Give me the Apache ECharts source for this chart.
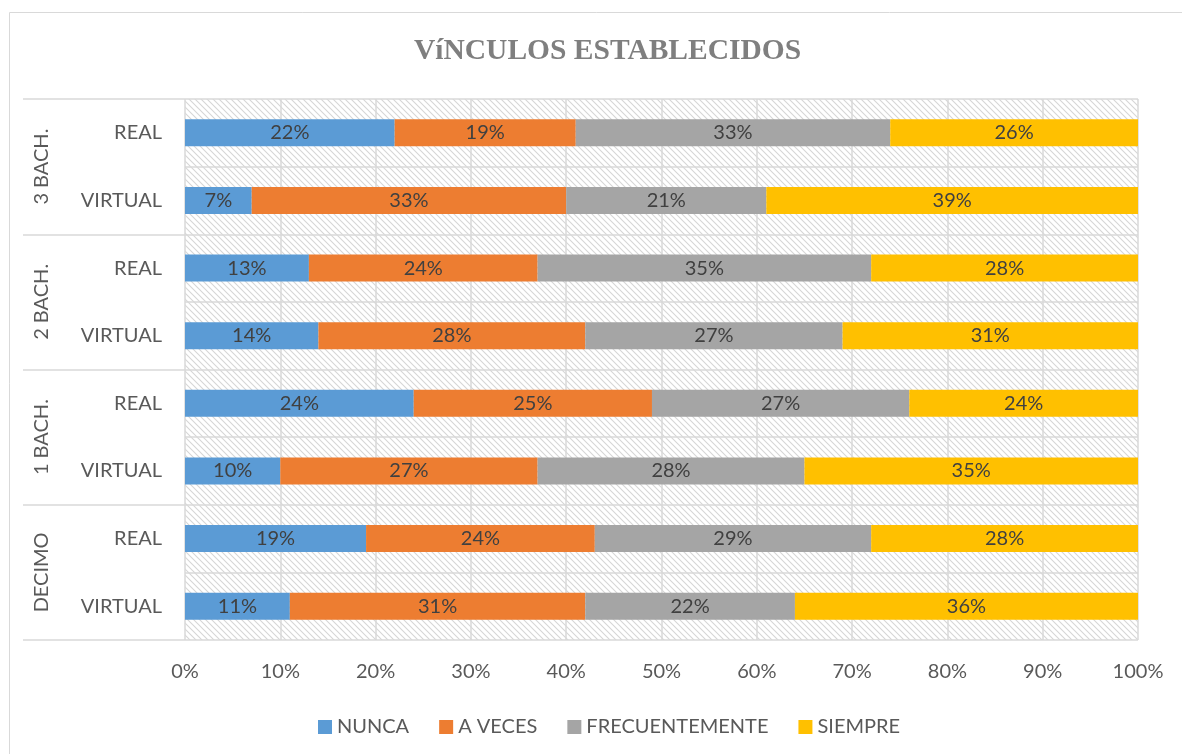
<!DOCTYPE html>
<html lang="es">
<head>
    <meta charset="UTF-8">
    <title>Vínculos establecidos</title>
    <script src="https://cdn.jsdelivr.net/npm/echarts@6/dist/echarts.min.js"></script>
    <style>
        html, body { margin: 0; padding: 0; background: #ffffff; }
        #chart { width: 1182px; height: 754px; }
    </style>
</head>
<body>
<div id="chart"></div>
<script>
    // categories, bottom to top (Excel order)
    var rows = ['VIRTUAL', 'REAL', 'VIRTUAL', 'REAL', 'VIRTUAL', 'REAL', 'VIRTUAL', 'REAL'];
    var groups = ['DECIMO', '1 BACH.', '2 BACH.', '3 BACH.'];
    var seriesNames = ['NUNCA', 'A VECES', 'FRECUENTEMENTE', 'SIEMPRE'];
    var xTicks = [0, 10, 20, 30, 40, 50, 60, 70, 80, 90, 100];

    var nunca       = [11, 19, 10, 24, 14, 13, 7, 22];
    var aVeces      = [31, 24, 27, 25, 28, 24, 33, 19];
    var frecuente   = [22, 29, 28, 27, 27, 35, 21, 33];
    var siempre     = [36, 28, 35, 24, 31, 28, 39, 26];

    var colors = ['#5b9bd5', '#ed7d31', '#a5a5a5', '#ffc000'];
    var txt = '#595959';
    var line = '#d9d9d9';
    var font = 'Lato, "Open Sans", sans-serif';

    // hatched background of the plot area
    function hatch() {
        var c = document.createElement('canvas');
        c.width = 6; c.height = 6;
        var ctx = c.getContext('2d');
        ctx.fillStyle = '#ffffff';
        ctx.fillRect(0, 0, 6, 6);
        ctx.strokeStyle = '#d6d6d6';
        ctx.lineWidth = 1.1;
        ctx.beginPath();
        ctx.moveTo(-1, -1); ctx.lineTo(7, 7);
        ctx.moveTo(-4, 2); ctx.lineTo(4, 10);
        ctx.moveTo(2, -4); ctx.lineTo(10, 4);
        ctx.stroke();
        return c;
    }

    var values = [nunca, aVeces, frecuente, siempre];
    var series = seriesNames.map(function (name, i) {
        return {
            name: name,
            type: 'bar',
            stack: 'total',
            barWidth: 27,
            data: values[i],
            itemStyle: { color: colors[i] },
            label: {
                show: true,
                position: 'inside',
                formatter: '{c}%',
                color: '#404040',
                fontSize: 20,
                fontFamily: font
            }
        };
    });

    var myChart = echarts.init(document.getElementById('chart'));
    myChart.setOption({
        animation: false,
        title: {
            text: 'VíNCULOS ESTABLECIDOS',
            left: 409,
            top: 31,
            textStyle: {
                fontFamily: '"Liberation Serif", "DejaVu Serif", serif',
                fontWeight: 'bold',
                fontSize: 29.5,
                color: '#7f7f7f'
            }
        },
        legend: {
            bottom: 12,
            left: 313,
            itemWidth: 14,
            itemHeight: 14,
            itemGap: 30,
            icon: 'rect',
            textStyle: { color: txt, fontSize: 20, fontFamily: font },
            data: seriesNames
        },
        graphic: [{
            type: 'rect',
            shape: { x: 9.5, y: 12.5, width: 1200, height: 800 },
            style: { fill: 'none', stroke: line, lineWidth: 1 },
            silent: true
        }],
        grid: {
            left: 185,
            right: 44,
            top: 99,
            bottom: 114,
            show: true,
            borderWidth: 0,
            backgroundColor: { image: hatch(), repeat: 'repeat' }
        },
        xAxis: {
            type: 'value',
            min: 0,
            max: 100,
            interval: 10,
            axisLine: { show: false },
            axisTick: { show: false },
            splitLine: { lineStyle: { color: line, width: 1.5 } },
            axisLabel: {
                color: txt,
                fontSize: 20,
                fontFamily: font,
                margin: 22,
                formatter: function (v) { return xTicks.indexOf(v) >= 0 ? v + '%' : ''; }
            }
        },
        yAxis: [{
            type: 'category',
            data: rows,
            axisLine: { show: false },
            axisTick: { show: false },
            splitLine: { show: true, lineStyle: { color: line, width: 1.5 } },
            axisLabel: { color: txt, fontSize: 20, fontFamily: font, margin: 23 }
        }, {
            type: 'category',
            data: groups,
            position: 'left',
            axisLine: { show: false },
            axisTick: { show: true, length: 162, lineStyle: { color: line, width: 1.5 } },
            splitLine: { show: false },
            axisLabel: {
                color: txt,
                fontSize: 20,
                fontFamily: font,
                rotate: 90,
                margin: 133
            }
        }],
        series: series
    });
</script>
</body>
</html>
